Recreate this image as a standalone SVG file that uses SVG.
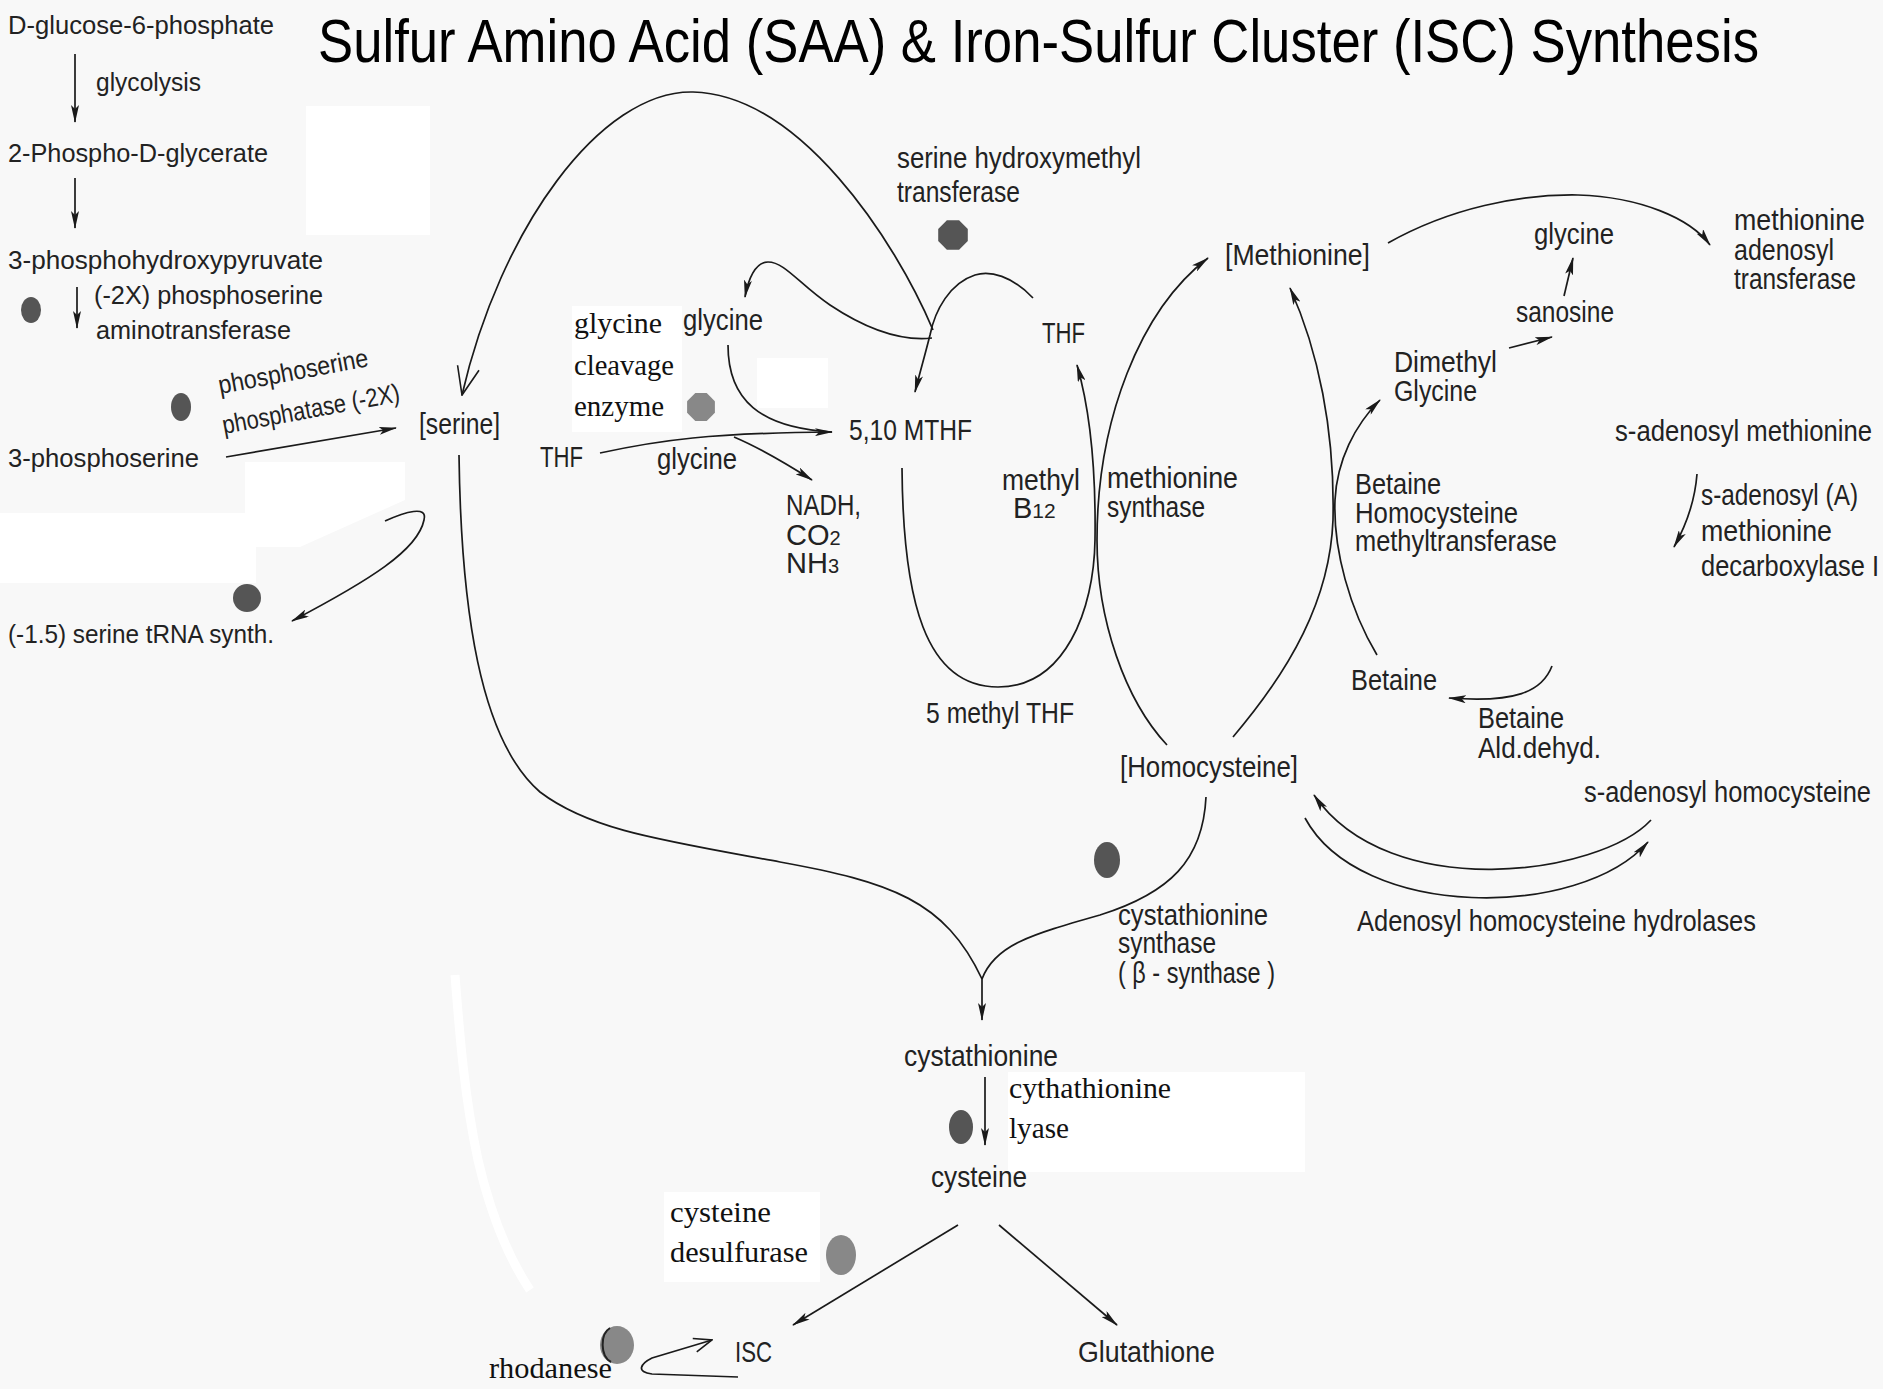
<svg xmlns="http://www.w3.org/2000/svg" width="1883" height="1389" viewBox="0 0 1883 1389">
<style>
.a{font-family:"Liberation Sans",Arial,sans-serif;font-size:26px;fill:#222}
.b{font-family:"Liberation Sans",Arial,sans-serif;font-size:29px;fill:#222}
.c{font-family:"Liberation Serif","Times New Roman",serif;font-size:29px;fill:#111}
.t{font-family:"Liberation Sans",Arial,sans-serif;font-size:62px;fill:#000}
.ln{fill:none;stroke:#1a1a1a;stroke-width:1.7}
.dk{fill:#555}
.lt{fill:#888}
.wp{fill:#fff}
</style>
<defs>
<marker id="ah" markerUnits="userSpaceOnUse" viewBox="0 0 18 8" refX="17" refY="4" markerWidth="18" markerHeight="8" orient="auto"><path d="M0,0 L18,4 L0,8 L4,4 z" fill="#1a1a1a"/></marker>
<marker id="oa" markerUnits="userSpaceOnUse" viewBox="0 0 30 24" refX="29" refY="12" markerWidth="30" markerHeight="24" orient="auto"><path d="M1,1 L29,12 L1,23" fill="none" stroke="#1a1a1a" stroke-width="1.6"/></marker>
<marker id="os" markerUnits="userSpaceOnUse" viewBox="0 0 20 16" refX="19" refY="8" markerWidth="20" markerHeight="16" orient="auto"><path d="M1,1 L19,8 L1,15" fill="none" stroke="#1a1a1a" stroke-width="1.6"/></marker>
</defs>
<rect width="1883" height="1389" fill="#f8f8f8"/>
<g id="background-patches">
<rect class="wp" x="306" y="106" width="124" height="129"/>
<rect class="wp" x="572" y="306" width="110" height="126"/>
<rect class="wp" x="757" y="358" width="71" height="50"/>
<rect class="wp" x="1008" y="1072" width="297" height="100"/>
<rect class="wp" x="664" y="1192" width="156" height="90"/>
<rect class="wp" x="0" y="513" width="256" height="70"/>
<polygon class="wp" points="245,462 405,462 405,500 300,547 245,547"/>
<path d="M455,975 C460,1040 465,1100 478,1160 C492,1220 510,1260 530,1290" fill="none" stroke="#fff" stroke-width="9"/>
</g>
<g id="title"><text class="t" x="318" y="62" textLength="1441" lengthAdjust="spacingAndGlyphs">Sulfur Amino Acid (SAA) &amp; Iron-Sulfur Cluster (ISC) Synthesis</text></g>
<g id="connectors">
<path class="ln" d="M75,54 L75,122" marker-end="url(#ah)"/>
<path class="ln" d="M75,178 L75,228" marker-end="url(#ah)"/>
<path class="ln" d="M77,287 L77,328" marker-end="url(#ah)"/>
<path class="ln" d="M226,457 L396,428" marker-end="url(#ah)"/>
<path class="ln" d="M385,521 C405,512 428,505 424,520 C418,550 370,580 292,621" marker-end="url(#ah)"/>
<path class="ln" d="M459,455 C461,610 480,740 540,792 C590,830 660,840 780,862 C890,882 945,900 982,979"/>
<path class="ln" d="M1206,797 C1203,860 1170,893 1100,915 C1030,935 995,945 982,979"/>
<path class="ln" d="M982,979 L982,1020" marker-end="url(#ah)"/>
<path class="ln" d="M933,330 C895,240 800,95 693,92 C600,90 500,230 462,395" marker-end="url(#oa)"/>
<path class="ln" d="M932,338 C895,342 860,325 830,305 C800,285 785,262 768,262 C755,262 748,280 745,297" marker-end="url(#ah)"/>
<path class="ln" d="M1033,298 C1012,276 990,270 975,275 C950,283 935,310 930,335 C925,355 920,372 915,392" marker-end="url(#ah)"/>
<path class="ln" d="M728,345 C728,400 760,428 832,432"/>
<path class="ln" d="M600,453 C660,440 710,433 832,432" marker-end="url(#ah)"/>
<path class="ln" d="M734,437 C760,448 790,466 812,480" marker-end="url(#ah)"/>
<path class="ln" d="M902,468 C903,600 925,687 998,687 C1065,687 1094,610 1095,540 C1096,470 1090,410 1077,365" marker-end="url(#ah)"/>
<path class="ln" d="M1167,745 C1125,700 1097,620 1097,540 C1097,420 1140,310 1208,258" marker-end="url(#ah)"/>
<path class="ln" d="M1233,737 C1290,670 1330,600 1333,520 C1335,430 1318,350 1290,288" marker-end="url(#ah)"/>
<path class="ln" d="M1377,655 C1350,610 1333,550 1335,500 C1337,460 1355,425 1380,400" marker-end="url(#ah)"/>
<path class="ln" d="M1509,348 L1552,337" marker-end="url(#ah)"/>
<path class="ln" d="M1564,296 L1573,258" marker-end="url(#ah)"/>
<path class="ln" d="M1388,243 C1450,208 1520,194 1578,195 C1640,197 1690,218 1710,245" marker-end="url(#ah)"/>
<path class="ln" d="M1697,474 C1695,500 1688,522 1674,547" marker-end="url(#ah)"/>
<path class="ln" d="M1552,666 C1542,692 1515,703 1449,698" marker-end="url(#ah)"/>
<path class="ln" d="M1651,820 C1600,875 1390,905 1314,795" marker-end="url(#ah)"/>
<path class="ln" d="M1305,818 C1360,920 1580,920 1648,842" marker-end="url(#ah)"/>
<path class="ln" d="M985,1077 L985,1145" marker-end="url(#ah)"/>
<path class="ln" d="M958,1225 L793,1325" marker-end="url(#ah)"/>
<path class="ln" d="M999,1225 L1117,1325" marker-end="url(#ah)"/>
<path class="ln" d="M738,1377 L652,1374 C636,1372 640,1364 652,1358 L712,1340" marker-end="url(#os)"/>
</g>
<g id="n-glucose6p"><text class="a" x="8" y="34" textLength="266" lengthAdjust="spacingAndGlyphs">D-glucose-6-phosphate</text></g>
<g id="e-glycolysis"><text class="a" x="96" y="91" textLength="105" lengthAdjust="spacingAndGlyphs">glycolysis</text></g>
<g id="n-2pg"><text class="a" x="8" y="162" textLength="260" lengthAdjust="spacingAndGlyphs">2-Phospho-D-glycerate</text></g>
<g id="n-3php"><text class="a" x="8" y="269" textLength="315" lengthAdjust="spacingAndGlyphs">3-phosphohydroxypyruvate</text></g>
<g id="e-psat"><ellipse class="dk" cx="31" cy="310" rx="10" ry="13"/><text class="a" x="94" y="304" textLength="229" lengthAdjust="spacingAndGlyphs">(-2X) phosphoserine</text><text class="a" x="96" y="339" textLength="195" lengthAdjust="spacingAndGlyphs">aminotransferase</text></g>
<g id="e-psph"><ellipse class="dk" cx="181" cy="407" rx="10" ry="14"/><text class="a" x="220" y="394" transform="rotate(-10.6 220 394)" textLength="152" lengthAdjust="spacingAndGlyphs">phosphoserine</text><text class="a" x="224" y="434" transform="rotate(-10.5 224 434)" textLength="180" lengthAdjust="spacingAndGlyphs">phosphatase (-2X)</text></g>
<g id="n-3ps"><text class="a" x="8" y="467" textLength="191" lengthAdjust="spacingAndGlyphs">3-phosphoserine</text></g>
<g id="n-serine"><text class="b" x="419" y="434" textLength="81" lengthAdjust="spacingAndGlyphs">[serine]</text></g>
<g id="e-sars"><circle class="dk" cx="247" cy="598" r="14"/><text class="a" x="8" y="643" textLength="266" lengthAdjust="spacingAndGlyphs">(-1.5) serine tRNA synth.</text></g>
<g id="e-shmt"><polygon class="dk" points="967.8,241.1 959.1,249.8 946.9,249.8 938.2,241.1 938.2,228.9 946.9,220.2 959.1,220.2 967.8,228.9"/><text class="b" x="897" y="168" textLength="244" lengthAdjust="spacingAndGlyphs">serine hydroxymethyl</text><text class="b" x="897" y="202" textLength="123" lengthAdjust="spacingAndGlyphs">transferase</text></g>
<g id="e-gce"><polygon class="lt" points="714.9,412.7 706.7,420.9 695.3,420.9 687.1,412.7 687.1,401.3 695.3,393.1 706.7,393.1 714.9,401.3"/><text class="c" x="574" y="333" textLength="88" lengthAdjust="spacingAndGlyphs">glycine</text><text class="c" x="574" y="375" textLength="100" lengthAdjust="spacingAndGlyphs">cleavage</text><text class="c" x="574" y="416" textLength="90" lengthAdjust="spacingAndGlyphs">enzyme</text></g>
<g id="n-glycine1"><text class="b" x="683" y="330" textLength="80" lengthAdjust="spacingAndGlyphs">glycine</text></g>
<g id="n-thf1"><text class="b" x="540" y="467" textLength="43" lengthAdjust="spacingAndGlyphs">THF</text></g>
<g id="n-glycine2"><text class="b" x="657" y="469" textLength="80" lengthAdjust="spacingAndGlyphs">glycine</text></g>
<g id="n-mthf"><text class="b" x="849" y="440" textLength="123" lengthAdjust="spacingAndGlyphs">5,10 MTHF</text></g>
<g id="n-nadh"><text class="b" x="786" y="515" textLength="75" lengthAdjust="spacingAndGlyphs">NADH,</text><text class="b" x="786" y="545">CO<tspan font-size="20">2</tspan></text><text class="b" x="786" y="573">NH<tspan font-size="20">3</tspan></text></g>
<g id="n-thf2"><text class="b" x="1042" y="343" textLength="43" lengthAdjust="spacingAndGlyphs">THF</text></g>
<g id="n-methylb12"><text class="b" x="1002" y="490" textLength="78" lengthAdjust="spacingAndGlyphs">methyl</text><text class="b" x="1013" y="518">B<tspan font-size="21">12</tspan></text></g>
<g id="e-ms"><text class="b" x="1107" y="488" textLength="131" lengthAdjust="spacingAndGlyphs">methionine</text><text class="b" x="1107" y="517" textLength="98" lengthAdjust="spacingAndGlyphs">synthase</text></g>
<g id="n-5mthf"><text class="b" x="926" y="723" textLength="148" lengthAdjust="spacingAndGlyphs">5 methyl THF</text></g>
<g id="n-methionine"><text class="b" x="1225" y="265" textLength="145" lengthAdjust="spacingAndGlyphs">[Methionine]</text></g>
<g id="n-glycine3"><text class="b" x="1534" y="244" textLength="80" lengthAdjust="spacingAndGlyphs">glycine</text></g>
<g id="n-sanosine"><text class="b" x="1516" y="322" textLength="98" lengthAdjust="spacingAndGlyphs">sanosine</text></g>
<g id="n-dmg"><text class="b" x="1394" y="372" textLength="103" lengthAdjust="spacingAndGlyphs">Dimethyl</text><text class="b" x="1394" y="401" textLength="83" lengthAdjust="spacingAndGlyphs">Glycine</text></g>
<g id="e-mat"><text class="b" x="1734" y="230" textLength="131" lengthAdjust="spacingAndGlyphs">methionine</text><text class="b" x="1734" y="260" textLength="100" lengthAdjust="spacingAndGlyphs">adenosyl</text><text class="b" x="1734" y="289" textLength="122" lengthAdjust="spacingAndGlyphs">transferase</text></g>
<g id="n-sam"><text class="b" x="1615" y="441" textLength="257" lengthAdjust="spacingAndGlyphs">s-adenosyl methionine</text></g>
<g id="e-samdc"><text class="b" x="1701" y="505" textLength="157" lengthAdjust="spacingAndGlyphs">s-adenosyl (A)</text><text class="b" x="1701" y="541" textLength="131" lengthAdjust="spacingAndGlyphs">methionine</text><text class="b" x="1701" y="576" textLength="178" lengthAdjust="spacingAndGlyphs">decarboxylase I</text></g>
<g id="e-bhmt"><text class="b" x="1355" y="494" textLength="86" lengthAdjust="spacingAndGlyphs">Betaine</text><text class="b" x="1355" y="523" textLength="163" lengthAdjust="spacingAndGlyphs">Homocysteine</text><text class="b" x="1355" y="551" textLength="202" lengthAdjust="spacingAndGlyphs">methyltransferase</text></g>
<g id="n-betaine"><text class="b" x="1351" y="690" textLength="86" lengthAdjust="spacingAndGlyphs">Betaine</text></g>
<g id="e-badh"><text class="b" x="1478" y="728" textLength="86" lengthAdjust="spacingAndGlyphs">Betaine</text><text class="b" x="1478" y="758" textLength="123" lengthAdjust="spacingAndGlyphs">Ald.dehyd.</text></g>
<g id="n-homocysteine"><text class="b" x="1120" y="777" textLength="178" lengthAdjust="spacingAndGlyphs">[Homocysteine]</text></g>
<g id="n-sah"><text class="b" x="1584" y="802" textLength="287" lengthAdjust="spacingAndGlyphs">s-adenosyl homocysteine</text></g>
<g id="e-ahcy"><text class="b" x="1357" y="931" textLength="399" lengthAdjust="spacingAndGlyphs">Adenosyl homocysteine hydrolases</text></g>
<g id="e-cbs"><ellipse class="dk" cx="1107" cy="860" rx="13" ry="18"/><text class="b" x="1118" y="925" textLength="150" lengthAdjust="spacingAndGlyphs">cystathionine</text><text class="b" x="1118" y="953" textLength="98" lengthAdjust="spacingAndGlyphs">synthase</text><text class="b" x="1118" y="983" textLength="157" lengthAdjust="spacingAndGlyphs">( β - synthase )</text></g>
<g id="n-cystathionine"><text class="b" x="904" y="1066" textLength="154" lengthAdjust="spacingAndGlyphs">cystathionine</text></g>
<g id="e-cth"><ellipse class="dk" cx="961" cy="1127" rx="12" ry="17"/><text class="c" x="1009" y="1098" textLength="162" lengthAdjust="spacingAndGlyphs">cythathionine</text><text class="c" x="1009" y="1138" textLength="60" lengthAdjust="spacingAndGlyphs">lyase</text></g>
<g id="n-cysteine"><text class="b" x="931" y="1187" textLength="96" lengthAdjust="spacingAndGlyphs">cysteine</text></g>
<g id="e-nfs"><ellipse class="lt" cx="841" cy="1255" rx="15" ry="20" stroke="#222" stroke-width="1" stroke-dasharray="30 200" stroke-dashoffset="40"/><text class="c" x="670" y="1222" textLength="101" lengthAdjust="spacingAndGlyphs">cysteine</text><text class="c" x="670" y="1262" textLength="138" lengthAdjust="spacingAndGlyphs">desulfurase</text></g>
<g id="n-isc"><text class="b" x="735" y="1362" textLength="37" lengthAdjust="spacingAndGlyphs">ISC</text></g>
<g id="n-glutathione"><text class="b" x="1078" y="1362" textLength="137" lengthAdjust="spacingAndGlyphs">Glutathione</text></g>
<g id="e-rhodanese"><ellipse class="lt" cx="617" cy="1345" rx="17" ry="19"/><path d="M610,1328 C600,1334 600,1356 611,1362" fill="none" stroke="#222" stroke-width="2"/><text class="c" x="489" y="1378" textLength="123" lengthAdjust="spacingAndGlyphs">rhodanese</text></g>
</svg>
